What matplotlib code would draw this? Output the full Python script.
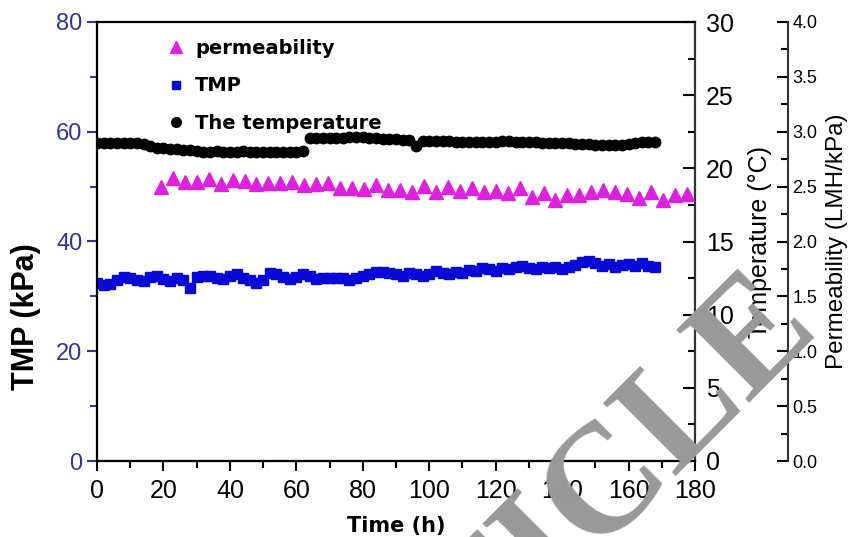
import numpy as np
import matplotlib
matplotlib.use("Agg")
import matplotlib.pyplot as plt
from matplotlib.ticker import MultipleLocator
from matplotlib.lines import Line2D

# hours sampled every 2 h for TMP and temperature
hours = np.arange(0, 170, 2)

tmp_kpa = [32.4, 32.0, 32.3, 32.9, 33.6, 33.3, 33.0, 32.8, 33.6, 33.8,
           33.2, 32.8, 33.4, 33.0, 31.6, 33.5, 33.8, 33.7, 33.4, 33.2,
           33.8, 34.0, 33.3, 32.9, 32.5, 33.0, 34.2, 34.0, 33.6, 33.2,
           33.6, 34.0, 33.8, 33.1, 33.3, 33.3, 33.3, 33.3, 33.0, 33.4,
           33.8, 34.0, 34.4, 34.5, 34.2, 34.0, 33.8, 34.2, 34.0, 33.7,
           34.1, 34.6, 34.3, 34.0, 34.5, 34.3, 34.8, 34.6, 35.1, 34.9,
           34.7, 35.2, 35.0, 35.3, 35.6, 35.2, 35.0, 35.4, 35.1, 35.3,
           35.0, 35.4, 35.8, 36.2, 36.5, 36.0, 35.6, 35.9, 35.3, 35.7,
           35.9, 35.5, 36.0, 35.6, 35.3]

temperature = [21.72, 21.73, 21.74, 21.72, 21.71, 21.74, 21.73, 21.65, 21.52, 21.42,
               21.36, 21.32, 21.30, 21.26, 21.22, 21.18, 21.14, 21.12, 21.16, 21.14,
               21.12, 21.14, 21.16, 21.14, 21.12, 21.13, 21.15, 21.13, 21.12, 21.14,
               21.15, 21.18, 22.06, 22.06, 22.07, 22.06, 22.08, 22.09, 22.12, 22.16,
               22.12, 22.08, 22.06, 22.03, 22.00, 21.98, 21.96, 21.94, 21.52, 21.86,
               21.86, 21.85, 21.84, 21.84, 21.82, 21.80, 21.80, 21.81, 21.82, 21.82,
               21.83, 21.84, 21.84, 21.82, 21.80, 21.80, 21.78, 21.76, 21.74, 21.72,
               21.70, 21.70, 21.68, 21.66, 21.64, 21.62, 21.62, 21.60, 21.58, 21.60,
               21.64, 21.74, 21.78, 21.78, 21.77]

# permeability sampled roughly every 3.6 h starting ~19 h
perm_hours = 19.2 + 3.6 * np.arange(45)
permeability = [2.50, 2.58, 2.54, 2.545, 2.57, 2.52, 2.56, 2.55, 2.52, 2.53,
                2.53, 2.54, 2.515, 2.52, 2.53, 2.49, 2.49, 2.48, 2.515, 2.47,
                2.47, 2.455, 2.505, 2.45, 2.50, 2.46, 2.485, 2.455, 2.46, 2.44,
                2.49, 2.41, 2.44, 2.38, 2.425, 2.425, 2.455, 2.47, 2.45, 2.43,
                2.395, 2.455, 2.38, 2.425, 2.43]

navy = '#33339a'
tick_font = 'Liberation Sans'

fig = plt.figure(figsize=(8.57, 5.37), dpi=100)
W, H = 857, 537
ax = fig.add_axes([97 / W, 1 - 461 / H, (695 - 97) / W, (461 - 22) / H])
ax2 = ax.twinx()
ax3 = ax.twinx()
ax3.spines['right'].set_position(('axes', (788 - 97) / (695 - 97)))

ax.plot(hours, tmp_kpa, 's', color='#0a0ad8', ms=7.5, mec='#0a0ad8')
ax2.plot(hours, temperature, 'o', color='black', ms=7.5)
ax3.plot(perm_hours, permeability, '^', color='#e020e0', ms=9.5, mec='#e020e0')

ax.set_xlim(0, 180)
ax.set_ylim(0, 80)
ax2.set_ylim(0, 30)
ax3.set_ylim(0, 4.0)

ax.xaxis.set_major_locator(MultipleLocator(20))
ax.xaxis.set_minor_locator(MultipleLocator(10))
ax.yaxis.set_major_locator(MultipleLocator(20))
ax.yaxis.set_minor_locator(MultipleLocator(10))
ax2.yaxis.set_major_locator(MultipleLocator(5))
ax2.yaxis.set_minor_locator(MultipleLocator(2.5))
ax3.yaxis.set_major_locator(MultipleLocator(0.5))
ax3.yaxis.set_minor_locator(MultipleLocator(0.25))
ax3.yaxis.set_major_formatter(plt.FormatStrFormatter('%.1f'))

# spines
ax.spines['left'].set_color(navy)
for a in (ax, ax2, ax3):
    for s in a.spines.values():
        s.set_linewidth(1.5)
ax.spines['top'].set_color('#444444')
ax2.spines['right'].set_color('#333333')
ax3.spines['right'].set_color('#333333')

ax.tick_params(axis='x', which='both', direction='out', top=False, width=1.5,
               labelsize=18, pad=6)
ax.tick_params(axis='x', which='major', length=7)
ax.tick_params(axis='x', which='minor', length=5)
ax.tick_params(axis='y', which='both', direction='out', color=navy, width=1.5,
               labelcolor=navy, labelsize=17)
ax.tick_params(axis='y', which='major', length=7)
ax.tick_params(axis='y', which='minor', length=5)
ax2.tick_params(axis='y', which='both', direction='in', width=1.5, labelsize=18, pad=8)
ax2.tick_params(axis='y', which='major', length=9)
ax2.tick_params(axis='y', which='minor', length=5)
ax3.tick_params(axis='y', which='both', direction='in', width=1.5, labelsize=13, pad=3)
ax3.tick_params(axis='y', which='major', length=8)
ax3.tick_params(axis='y', which='minor', length=5)

for a in (ax, ax2, ax3):
    for lab in a.get_xticklabels() + a.get_yticklabels():
        lab.set_fontfamily(tick_font)

ax.set_xlabel('Time (h)', fontsize=15, fontweight='bold', family='DejaVu Sans', labelpad=9)
ax.set_ylabel('TMP (kPa)', fontsize=22, fontweight='bold', family=tick_font)
ax.yaxis.set_label_coords(-0.093, 0.33)
ax2.set_ylabel('Temperature (\u00b0C)', fontsize=18, family=tick_font, labelpad=10)
ax3.set_ylabel('Permeability (LMH/kPa)', fontsize=17.5, family=tick_font, labelpad=6)

handles = [Line2D([], [], ls='none', marker='^', color='#e020e0', ms=9),
           Line2D([], [], ls='none', marker='s', color='#0a0ad8', ms=6),
           Line2D([], [], ls='none', marker='o', color='black', ms=7)]
labels = ['permeability', 'TMP', 'The temperature']
leg = ax3.legend(handles, labels, loc='upper left',
                 bbox_to_anchor=(166 / W, 1 - 39 / H), bbox_transform=fig.transFigure,
                 frameon=False, handlelength=1.0, handletextpad=0.5,
                 labelspacing=0.95, borderpad=0, borderaxespad=0,
                 prop={'family': 'DejaVu Sans', 'weight': 'bold', 'size': 14})

# watermark from the source image
fig.text(546 / W, 1 - 551 / H, 'ARTICLE', family='Liberation Serif', fontsize=112,
         fontweight='bold', color='#999999', rotation=45, ha='center', va='center',
         rotation_mode='anchor', zorder=20)

fig.savefig('out.png', dpi=100, facecolor='white')
